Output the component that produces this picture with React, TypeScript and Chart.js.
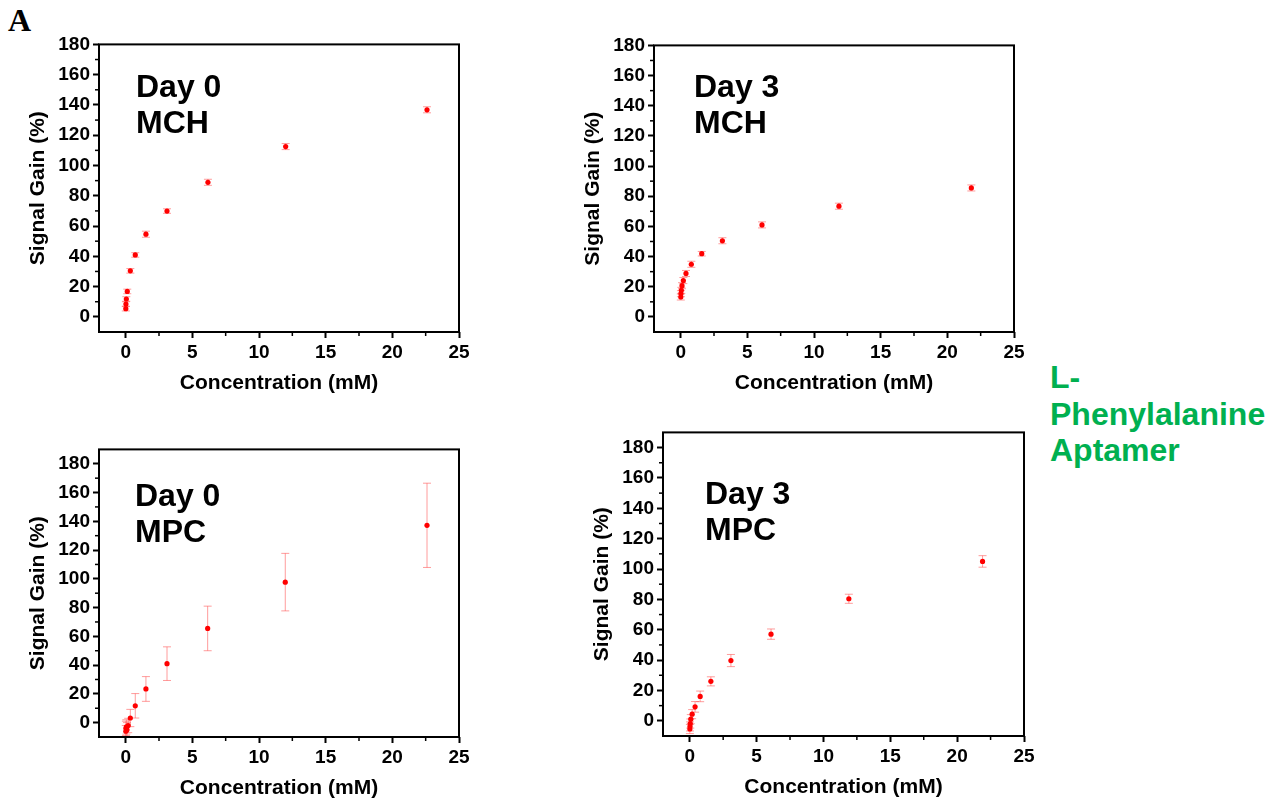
import React, { useEffect, useRef } from "react";
import { Chart, registerables } from "chart.js";

Chart.register(...registerables);

// ---- Data ----
const day0MchConc = [0.01, 0.02, 0.05, 0.12, 0.35, 0.72, 1.52, 3.1, 6.17, 12.0, 22.6];
const day0MchGain = [5.4, 8.5, 11.8, 16.8, 30.4, 40.9, 54.6, 69.9, 88.9, 112.5, 136.8];
const day0MchErr = [1.5, 1.5, 1.5, 1.5, 1.5, 1.5, 2, 1.5, 2, 2, 2];

const day3MchConc = [0.01, 0.02, 0.05, 0.1, 0.2, 0.4, 0.8, 1.58, 3.13, 6.1, 11.87, 21.8];
const day3MchGain = [13.2, 15.4, 17.6, 20.7, 24.1, 28.8, 34.9, 41.9, 50.5, 61.0, 73.4, 85.5];
const day3MchErr = [2, 2, 2, 2, 2, 2, 2, 1.5, 2, 2, 2, 2];

const day0MpcConc = [0.01, 0.02, 0.05, 0.1, 0.19, 0.35, 0.72, 1.52, 3.1, 6.15, 11.97, 22.6];
const day0MpcGain = [-6, -4, -3, -5, -2, 3.2, 11.7, 23.4, 41.0, 65.5, 97.7, 137.2];
const day0MpcErr = [4, 5, 5, 5, 5, 6, 8.5, 8.6, 11.7, 15.5, 20, 29.3];

const day3MpcConc = [0.01, 0.02, 0.04, 0.08, 0.18, 0.4, 0.78, 1.58, 3.08, 6.08, 11.9, 21.9];
const day3MpcGain = [-5.4, -3.7, -1.8, 1.1, 4.4, 9.2, 16.1, 26.0, 39.7, 57.1, 80.4, 105.0];
const day3MpcErr = [3, 3, 3, 3, 3, 3.5, 3.5, 3, 4, 3.4, 3, 3.8];

const xMajorTicks = [0, 5, 10, 15, 20, 25];
const xMinorTicks = [2.5, 7.5, 12.5, 17.5, 22.5];
const yMajorTicks = [0, 20, 40, 60, 80, 100, 120, 140, 160, 180];
const yMinorTicks = [10, 30, 50, 70, 90, 110, 130, 150, 170];

const FONT = "'Liberation Sans', Arial, Helvetica, sans-serif";

type PanelProps = {
  left: number;
  top: number;
  w: number;
  h: number;
  yMax: number;
  xs: number[];
  ys: number[];
  errs: number[];
};

const Y_AXIS_W = 90;
const X_AXIS_H = 65;
const PAD_TOP = 12;
const PAD_RIGHT = 18;

function Panel({ left, top, w, h, yMax, xs, ys, errs }: PanelProps) {
  const ref = useRef<HTMLCanvasElement>(null);
  const cw = Y_AXIS_W + w + PAD_RIGHT;
  const ch = PAD_TOP + h + X_AXIS_H;

  useEffect(() => {
    if (!ref.current) return;
    const pts = xs.map((x, i) => ({ x, y: ys[i] }));

    const errPlugin = {
      id: "errbars",
      beforeDatasetsDraw(chart: any) {
        const { ctx } = chart;
        const sx = chart.scales.x;
        const sy = chart.scales.y;
        ctx.save();
        ctx.strokeStyle = "rgba(255,90,90,0.6)";
        ctx.lineWidth = 1;
        xs.forEach((x, i) => {
          const px = sx.getPixelForValue(x);
          const p1 = sy.getPixelForValue(ys[i] + errs[i]);
          const p2 = sy.getPixelForValue(ys[i] - errs[i]);
          ctx.beginPath();
          ctx.moveTo(px, p1);
          ctx.lineTo(px, p2);
          ctx.moveTo(px - 4, p1);
          ctx.lineTo(px + 4, p1);
          ctx.moveTo(px - 4, p2);
          ctx.lineTo(px + 4, p2);
          ctx.stroke();
        });
        ctx.restore();
      },
    };

    const framePlugin = {
      id: "frame",
      afterDraw(chart: any) {
        const { ctx, chartArea: a } = chart;
        const sx = chart.scales.x;
        const sy = chart.scales.y;
        ctx.save();
        ctx.strokeStyle = "#000";
        ctx.lineWidth = 2;
        ctx.strokeRect(a.left, a.top, a.right - a.left, a.bottom - a.top);
        ctx.lineWidth = 1.5;
        xMinorTicks.forEach((v) => {
          const px = sx.getPixelForValue(v);
          ctx.beginPath();
          ctx.moveTo(px, a.bottom);
          ctx.lineTo(px, a.bottom + 4);
          ctx.stroke();
        });
        yMinorTicks.forEach((v) => {
          const py = sy.getPixelForValue(v);
          ctx.beginPath();
          ctx.moveTo(a.left, py);
          ctx.lineTo(a.left - 4, py);
          ctx.stroke();
        });
        ctx.restore();
      },
    };

    const chart = new Chart(ref.current, {
      type: "scatter",
      data: {
        datasets: [
          {
            data: pts,
            backgroundColor: "#ff0000",
            borderColor: "#ff0000",
            pointRadius: 2.6,
            pointBorderWidth: 0,
          },
        ],
      },
      options: {
        animation: false,
        responsive: false,
        layout: { padding: { top: PAD_TOP, right: PAD_RIGHT, left: 0, bottom: 0 } },
        plugins: { legend: { display: false }, tooltip: { enabled: false } },
        scales: {
          x: {
            type: "linear",
            min: -2,
            max: 25,
            afterBuildTicks: (s: any) => {
              s.ticks = xMajorTicks.map((v) => ({ value: v }));
            },
            afterFit: (s: any) => {
              s.height = X_AXIS_H;
            },
            grid: { drawOnChartArea: false, drawTicks: true, tickLength: 6, tickWidth: 2, tickColor: "#000" },
            border: { display: false },
            ticks: {
              color: "#000",
              font: { family: FONT, size: 19, weight: "bold" },
              padding: 3,
              maxRotation: 0,
              autoSkip: false,
            },
            title: {
              display: true,
              text: "Concentration (mM)",
              color: "#000",
              font: { family: FONT, size: 21, weight: "bold" },
              padding: { top: 0, bottom: 1.4 },
            },
          },
          y: {
            type: "linear",
            min: -10,
            max: yMax,
            afterBuildTicks: (s: any) => {
              s.ticks = yMajorTicks.map((v) => ({ value: v }));
            },
            afterFit: (s: any) => {
              s.width = Y_AXIS_W;
            },
            grid: { drawOnChartArea: false, drawTicks: true, tickLength: 6, tickWidth: 2, tickColor: "#000" },
            border: { display: false },
            ticks: {
              color: "#000",
              font: { family: FONT, size: 19, weight: "bold" },
              padding: 3,
              autoSkip: false,
            },
            title: {
              display: true,
              text: "Signal Gain (%)",
              color: "#000",
              font: { family: FONT, size: 21, weight: "bold" },
              padding: { top: 16.4, bottom: 0 },
            },
          },
        },
      } as any,
      plugins: [errPlugin, framePlugin],
    });
    return () => chart.destroy();
  }, []);

  return (
    <canvas
      ref={ref}
      width={cw}
      height={ch}
      style={{
        position: "absolute",
        left: left - Y_AXIS_W,
        top: top - PAD_TOP,
        width: cw,
        height: ch,
      }}
    />
  );
}

const labelStyle: React.CSSProperties = {
  position: "absolute",
  fontFamily: FONT,
  fontWeight: "bold",
  fontSize: 32,
  lineHeight: "36px",
  color: "#000",
  whiteSpace: "pre",
};

export default function App() {
  return (
    <div
      style={{
        position: "absolute",
        left: 0,
        top: 0,
        width: 1268,
        height: 802,
        background: "#fff",
        overflow: "hidden",
      }}
    >
      <div
        style={{
          position: "absolute",
          left: 8,
          top: 4,
          fontFamily: "'Liberation Serif', 'Times New Roman', serif",
          fontWeight: "bold",
          fontSize: 32,
          lineHeight: "32px",
          color: "#000",
        }}
      >
        A
      </div>

      <Panel left={99} top={42} w={360} h={290} yMax={180} xs={day0MchConc} ys={day0MchGain} errs={day0MchErr} />
      <Panel left={654} top={43} w={360} h={289} yMax={180} xs={day3MchConc} ys={day3MchGain} errs={day3MchErr} />
      <Panel left={99} top={447} w={360} h={290} yMax={190} xs={day0MpcConc} ys={day0MpcGain} errs={day0MpcErr} />
      <Panel left={663} top={430} w={361} h={306} yMax={190} xs={day3MpcConc} ys={day3MpcGain} errs={day3MpcErr} />

      <div style={{ ...labelStyle, left: 136, top: 68 }}>{"Day 0\nMCH"}</div>
      <div style={{ ...labelStyle, left: 694, top: 68 }}>{"Day 3\nMCH"}</div>
      <div style={{ ...labelStyle, left: 135, top: 477 }}>{"Day 0\nMPC"}</div>
      <div style={{ ...labelStyle, left: 705, top: 475 }}>{"Day 3\nMPC"}</div>

      <div
        style={{
          position: "absolute",
          left: 1050,
          top: 359,
          fontFamily: FONT,
          fontWeight: "bold",
          fontSize: 32,
          lineHeight: "36.5px",
          color: "#00b050",
          whiteSpace: "pre",
        }}
      >
        {"L-\nPhenylalanine\nAptamer"}
      </div>
    </div>
  );
}
